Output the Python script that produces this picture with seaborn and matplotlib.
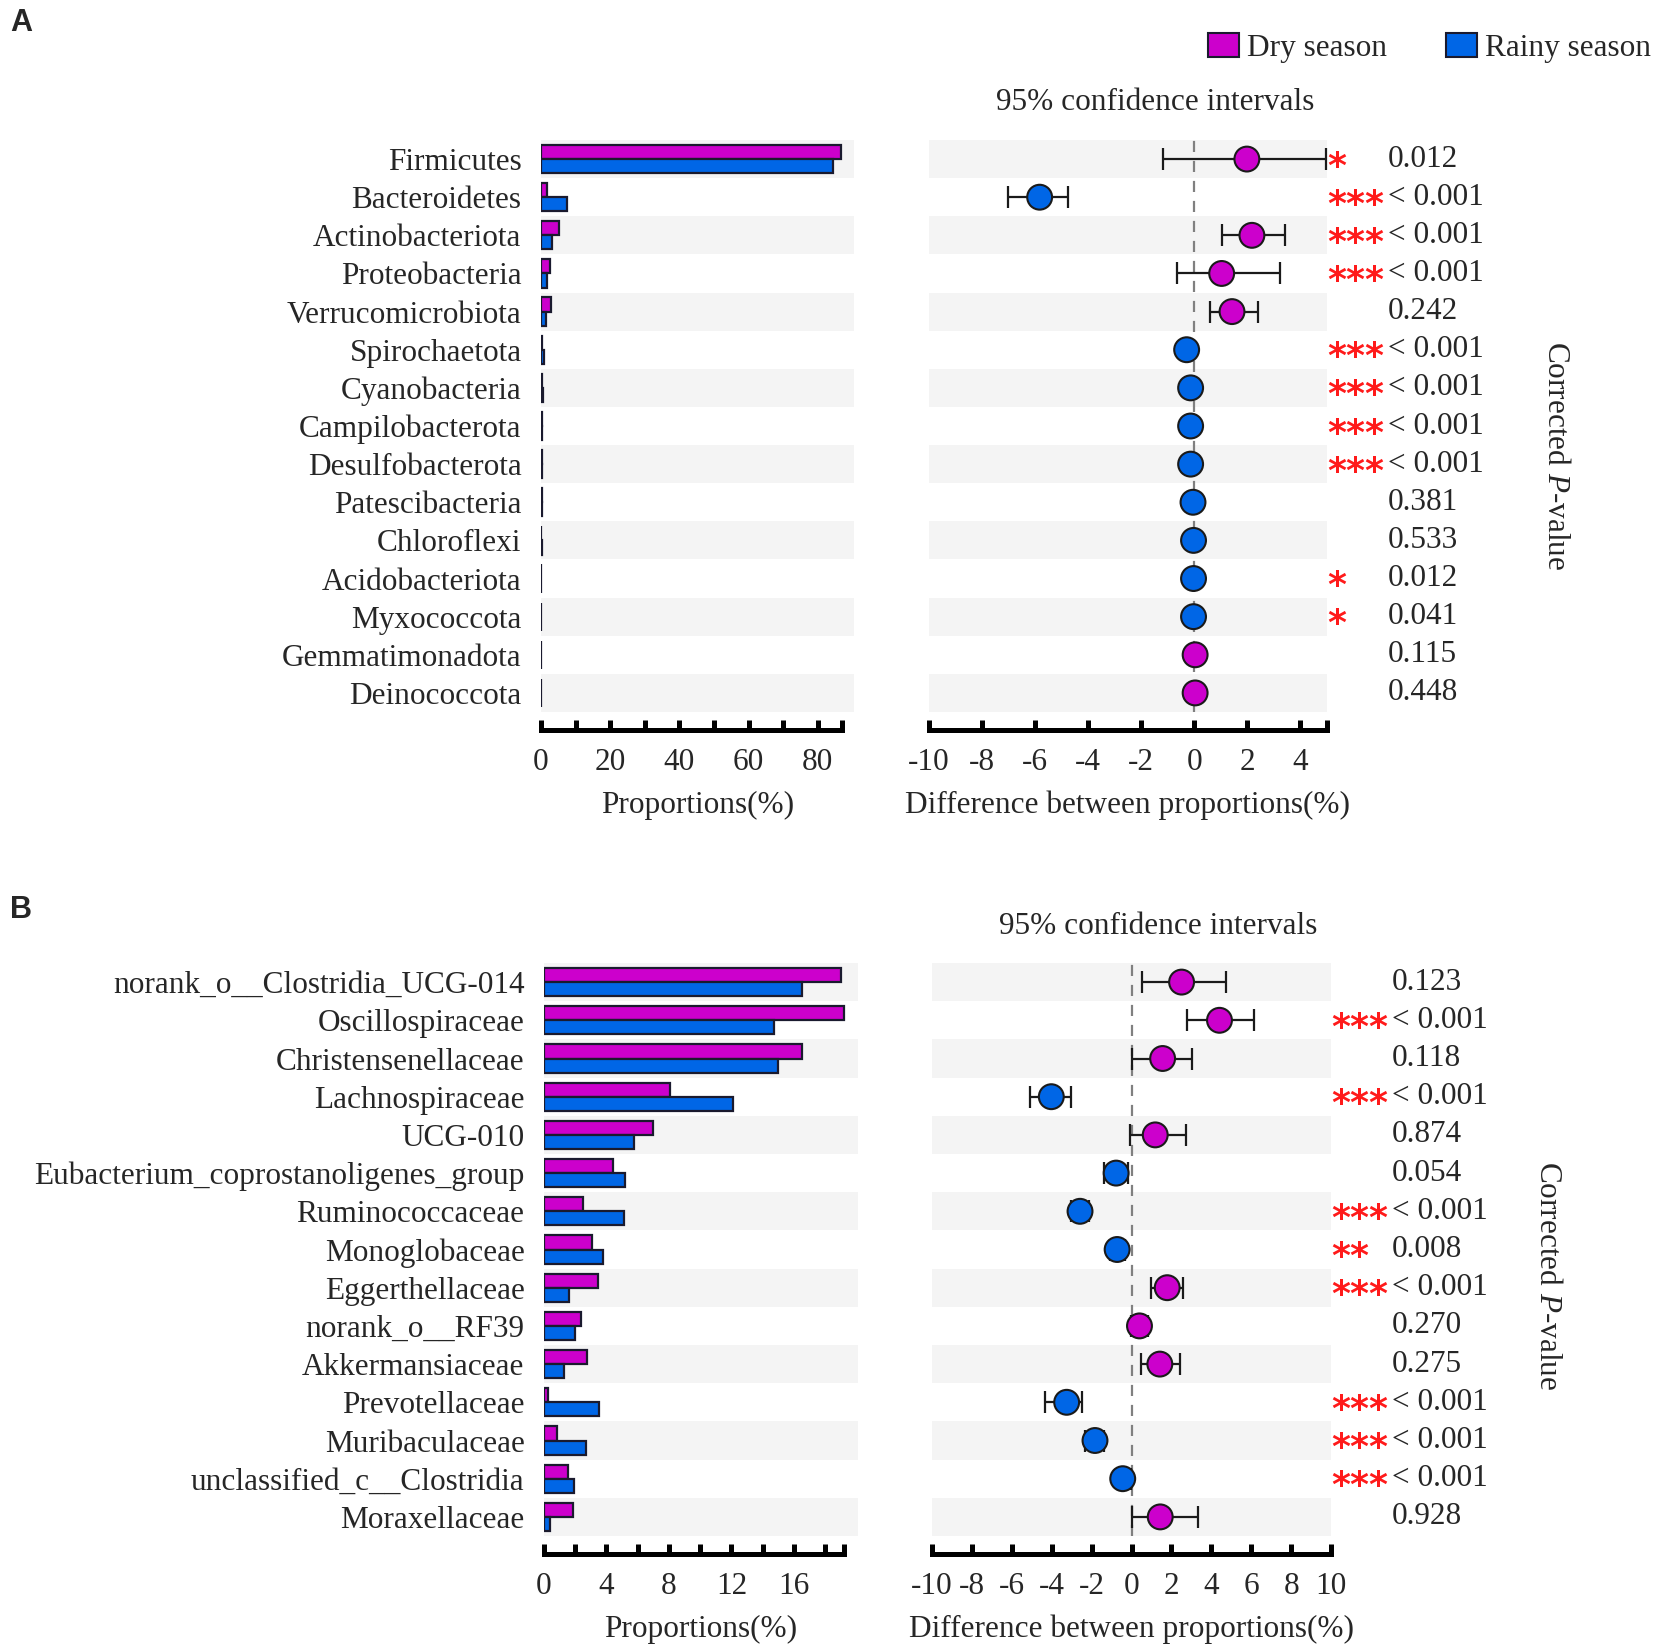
import numpy as np
import pandas as pd
import matplotlib
matplotlib.use("Agg")
import matplotlib.pyplot as plt
from matplotlib.patches import Patch
import seaborn as sns

# ---- data ----
season_names = ["Dry season", "Rainy season"]
dry_col = "#CC00CC"
rainy_col = "#0066E6"

taxa_a = ["Firmicutes", "Bacteroidetes", "Actinobacteriota", "Proteobacteria",
          "Verrucomicrobiota", "Spirochaetota", "Cyanobacteria", "Campilobacterota",
          "Desulfobacterota", "Patescibacteria", "Chloroflexi", "Acidobacteriota",
          "Myxococcota", "Gemmatimonadota", "Deinococcota"]
dry_a = [86.7, 1.6, 5.3, 2.7, 2.9, 0.3, 0.3, 0.25, 0.25, 0.15, 0.12, 0.1, 0.08, 0.1, 0.08]
rainy_a = [84.5, 7.5, 3.1, 1.7, 1.45, 0.8, 0.45, 0.4, 0.4, 0.2, 0.15, 0.12, 0.1, 0.05, 0.04]
diff_a = [1.98, -5.83, 2.17, 1.03, 1.42, -0.29, -0.14, -0.14, -0.14, -0.05, -0.03, -0.03, -0.03, 0.03, 0.03]
lo_a = [-1.19, -7.04, 1.04, -0.64, 0.58, -0.5, -0.2, -0.2, -0.2, -0.08, -0.06, -0.06, -0.06, 0.01, 0.01]
hi_a = [4.95, -4.77, 3.4, 3.22, 2.4, -0.05, -0.07, -0.07, -0.07, -0.01, 0.0, 0.0, 0.0, 0.05, 0.05]
pval_a = ["0.012", "< 0.001", "< 0.001", "< 0.001", "0.242", "< 0.001", "< 0.001", "< 0.001",
          "< 0.001", "0.381", "0.533", "0.012", "0.041", "0.115", "0.448"]
stars_a = ["*", "***", "***", "***", "", "***", "***", "***", "***", "", "", "*", "*", "", ""]

taxa_b = ["norank_o__Clostridia_UCG-014", "Oscillospiraceae", "Christensenellaceae",
          "Lachnospiraceae", "UCG-010", "Eubacterium_coprostanoligenes_group",
          "Ruminococcaceae", "Monoglobaceae", "Eggerthellaceae", "norank_o__RF39",
          "Akkermansiaceae", "Prevotellaceae", "Muribaculaceae",
          "unclassified_c__Clostridia", "Moraxellaceae"]
dry_b = [19.0, 19.2, 16.5, 8.07, 6.96, 4.41, 2.5, 3.06, 3.43, 2.4, 2.74, 0.24, 0.86, 1.54, 1.84]
rainy_b = [16.5, 14.7, 15.0, 12.1, 5.76, 5.2, 5.12, 3.79, 1.63, 2.0, 1.26, 3.5, 2.68, 1.95, 0.36]
diff_b = [2.51, 4.41, 1.56, -4.02, 1.19, -0.77, -2.58, -0.72, 1.79, 0.40, 1.42, -3.25, -1.83, -0.44, 1.44]
lo_b = [0.55, 2.77, 0.05, -5.11, -0.1, -1.37, -3.05, -1.1, 0.97, -0.02, 0.47, -4.33, -2.31, -0.72, 0.02]
hi_b = [4.73, 6.12, 3.03, -3.03, 2.75, -0.18, -2.11, -0.32, 2.6, 0.84, 2.41, -2.46, -1.36, -0.05, 3.34]
pval_b = ["0.123", "< 0.001", "0.118", "< 0.001", "0.874", "0.054", "< 0.001", "0.008",
          "< 0.001", "0.270", "0.275", "< 0.001", "< 0.001", "< 0.001", "0.928"]
stars_b = ["", "***", "", "***", "", "", "***", "**", "***", "", "", "***", "***", "***", ""]

sns.set_style("white")
plt.rcParams["font.family"] = ["Liberation Serif", "DejaVu Serif"]
plt.rcParams["mathtext.fontset"] = "custom"
plt.rcParams["mathtext.rm"] = "Liberation Serif"
plt.rcParams["mathtext.it"] = "Liberation Serif:italic"

FS = 22.5
W, H = 1654, 1650
fig = plt.figure(figsize=(W / 100, H / 100), dpi=100)


def box(x0, x1, y0, y1):
    return [x0 / W, 1 - y1 / H, (x1 - x0) / W, (y1 - y0) / H]


def style_axis(ax):
    for s in ["top", "right", "left"]:
        ax.spines[s].set_visible(False)
    ax.spines["bottom"].set_linewidth(3.6)
    ax.spines["bottom"].set_color("black")
    ax.spines["bottom"].set_position(("outward", 13))
    ax.tick_params(axis="x", bottom=True, direction="in", length=7, width=3.6, pad=13,
                   labelsize=FS, color="black")
    ax.tick_params(axis="y", length=0)
    for i in range(0, 15, 2):
        ax.axhspan(i - 0.5, i + 0.5, color="#f4f4f4", zorder=0, lw=0)
    ax.set_ylim(14.5, -0.5)


def bar_panel(ax, taxa, dry, rainy, xmax, spine_end, step, label_step):
    df = pd.DataFrame({"taxon": taxa * 2,
                       "value": dry + rainy,
                       "season": [season_names[0]] * len(taxa) + [season_names[1]] * len(taxa)})
    sns.barplot(data=df, y="taxon", x="value", hue="season", orient="h",
                palette=[dry_col, rainy_col], saturation=1, width=0.74, edgecolor="#1a1a2e",
                linewidth=1.6, legend=False, ax=ax, zorder=2)
    style_axis(ax)
    ax.set_xlim(0, xmax)
    ax.spines["bottom"].set_bounds(0, spine_end)
    ticks = list(np.arange(0, spine_end, step)) + [spine_end]
    labels = [("%d" % t if (abs(t % label_step) < 1e-9 and t != spine_end) else "") for t in ticks]
    ax.set_xticks(ticks)
    ax.set_xticklabels(labels)
    ax.set_xlabel("Proportions(%)", fontsize=FS, labelpad=10)
    ax.set_ylabel("")
    ax.tick_params(axis="y", labelsize=FS, pad=14)


def ci_panel(ax, diff, lo, hi, xmin, xmax, stars, pvals):
    y = np.arange(len(diff))
    diff = np.array(diff)
    ax.axvline(0, color="#808080", lw=1.6, ls=(0, (5, 4)), zorder=1)
    ax.errorbar(diff, y, xerr=[diff - np.array(lo), np.array(hi) - diff], fmt="none",
                ecolor="#1a1a1a", elinewidth=1.6, capsize=8, capthick=1.6, zorder=2)
    cdf = pd.DataFrame({"d": diff, "y": y,
                        "grp": [season_names[0] if d > 0 else season_names[1] for d in diff]})
    sns.scatterplot(data=cdf, x="d", y="y", hue="grp",
                    palette={season_names[0]: dry_col, season_names[1]: rainy_col},
                    s=320, edgecolor="#1a1a1a", linewidth=1.5, legend=False, ax=ax, zorder=3)
    style_axis(ax)
    ax.set_xlim(xmin, xmax)
    ticks = np.arange(xmin, xmax + 0.1, 2)
    ax.set_xticks(list(ticks) + ([xmax] if xmax % 2 else []))
    ax.set_xticklabels(["%d" % t for t in ticks] + ([""] if xmax % 2 else []))
    ax.set_yticks([])
    ax.set_xlabel("Difference between proportions(%)", fontsize=FS, labelpad=10)
    ax.set_ylabel("")
    tr = ax.get_yaxis_transform()
    for i in range(len(y)):
        if stars[i]:
            ax.text(1.0, i + 0.2, stars[i], transform=tr, color="#ff1a1a",
                    fontsize=26, fontweight="bold", ha="left", va="center", family="DejaVu Sans")
        ax.text(1.153, i, pvals[i], transform=tr, fontsize=FS, ha="left", va="center")


# ---- panel A ----
ax1 = fig.add_axes(box(541, 854, 140, 712))
bar_panel(ax1, taxa_a, dry_a, rainy_a, 90.5, 87, 10, 20)
ax2 = fig.add_axes(box(929, 1327, 140, 712))
ci_panel(ax2, diff_a, lo_a, hi_a, -10, 5, stars_a, pval_a)
fig.text(1155 / W, 1 - 103 / H, "95% confidence intervals", fontsize=FS, ha="center", va="center")
fig.text(1556 / W, 1 - 456 / H, "Corrected $\\mathit{P}$-value", fontsize=FS, rotation=270,
         ha="center", va="center")
fig.text(10 / W, 1 - 8 / H, "A", fontsize=22, fontweight="bold", family="Liberation Sans",
         ha="left", va="top")

# ---- panel B ----
ax3 = fig.add_axes(box(544, 858, 963, 1536))
bar_panel(ax3, taxa_b, dry_b, rainy_b, 20.1, 19.2, 2, 4)
ax4 = fig.add_axes(box(932, 1331, 963, 1536))
ci_panel(ax4, diff_b, lo_b, hi_b, -10, 10, stars_b, pval_b)
fig.text(1158 / W, 1 - 927 / H, "95% confidence intervals", fontsize=FS, ha="center", va="center")
fig.text(1548 / W, 1 - 1276 / H, "Corrected $\\mathit{P}$-value", fontsize=FS, rotation=270,
         ha="center", va="center")
fig.text(10 / W, 1 - 895 / H, "B", fontsize=22, fontweight="bold", family="Liberation Sans",
         ha="left", va="top")

# ---- legend ----
handles = [Patch(facecolor=dry_col, edgecolor="#1a1a2e", lw=1.5, label=season_names[0]),
           Patch(facecolor=rainy_col, edgecolor="#1a1a2e", lw=1.5, label=season_names[1])]
fig.legend(handles=handles, loc="center left", bbox_to_anchor=(1192 / W, 1 - 48 / H), ncol=2,
           frameon=False, fontsize=FS, handlelength=1.0, handleheight=0.8, handletextpad=0.25,
           columnspacing=1.9, borderpad=0)

fig.savefig("out.png", dpi=100)
